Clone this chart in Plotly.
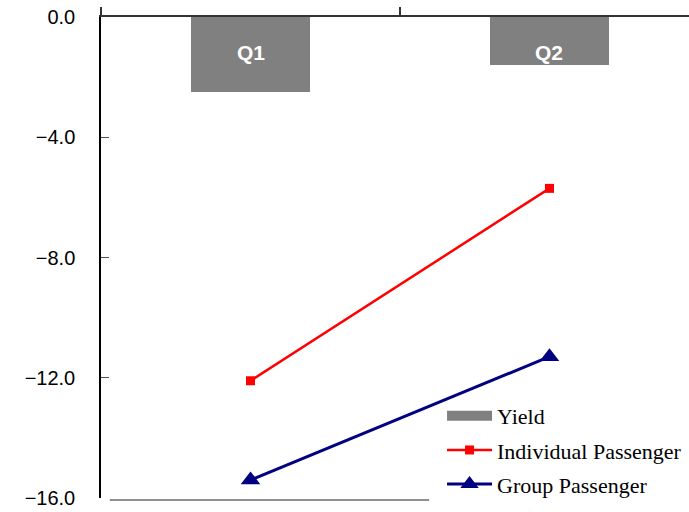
import plotly.graph_objects as go

# Quarterly change values (%)
categories = ["Q1", "Q2"]
yield_vals = [-2.5, -1.6]
individual = [-12.1, -5.7]
group = [-15.4, -11.3]
y_ticks = [0, -4, -8, -12, -16]

GRAY = "#808080"
RED = "#FF0000"
NAVY = "#000080"

fig = go.Figure()

fig.add_trace(go.Bar(
    x=categories, y=yield_vals, name="Yield",
    marker=dict(color=GRAY, line=dict(width=0)),
    width=0.4, showlegend=False, legendgroup="yield",
))
# legend key for the bars: a thick gray stroke reads as a wide swatch
fig.add_trace(go.Scatter(
    x=[None], y=[None], name="Yield", mode="lines",
    line=dict(color=GRAY, width=15), legendgroup="yield",
))
fig.add_trace(go.Scatter(
    x=categories, y=individual, name="Individual Passenger",
    mode="lines+markers", legendgroup="individual",
    line=dict(color=RED, width=2.5),
    marker=dict(symbol="square", size=9, color=RED),
))
fig.add_trace(go.Scatter(
    x=categories, y=group, name="Group Passenger",
    mode="lines+markers", legendgroup="group",
    line=dict(color=NAVY, width=3),
    marker=dict(symbol="triangle-up", size=17, color=NAVY),
))

# category names printed inside the bars
for cat in categories:
    fig.add_annotation(
        x=cat, y=-1.18, text=f"<b>{cat}</b>", showarrow=False,
        font=dict(family="Liberation Sans, Arial", size=21, color="white"),
        xanchor="center", yanchor="middle",
    )

# gray baseline along the bottom of the plot
fig.add_shape(
    type="line", xref="paper", yref="paper",
    x0=0.015, x1=0.558, y0=-0.004, y1=-0.004,
    line=dict(color="#909090", width=2),
)

fig.update_xaxes(
    type="category", side="top", range=[-0.5, 1.4666],
    showline=True, linecolor="#333333", linewidth=2,
    ticks="outside", ticklen=8, tickcolor="#333333", tickwidth=1.5,
    tickson="boundaries", showticklabels=False,
    showgrid=False, zeroline=False,
)
fig.update_yaxes(
    range=[-16, 0], tickvals=y_ticks, tickformat=".1f",
    showline=True, linecolor="black", linewidth=1.5,
    ticks="inside", ticklen=8, tickcolor="#555555", tickwidth=1,
    ticklabelstandoff=20,
    tickfont=dict(family="Liberation Sans, Arial", size=20, color="black"),
    showgrid=False, zeroline=False,
)

fig.update_layout(
    width=689, height=512,
    margin=dict(l=101, r=0, t=17, b=14),
    paper_bgcolor="white", plot_bgcolor="white",
    bargap=0,
    legend=dict(
        x=0.580, y=0.214, xanchor="left", yanchor="top",
        bgcolor="rgba(0,0,0,0)", borderwidth=0,
        itemwidth=45, tracegroupgap=2.5, traceorder="grouped",
        font=dict(family="Liberation Serif, Times New Roman", size=22, color="black"),
    ),
)

fig.write_html("out.html")
